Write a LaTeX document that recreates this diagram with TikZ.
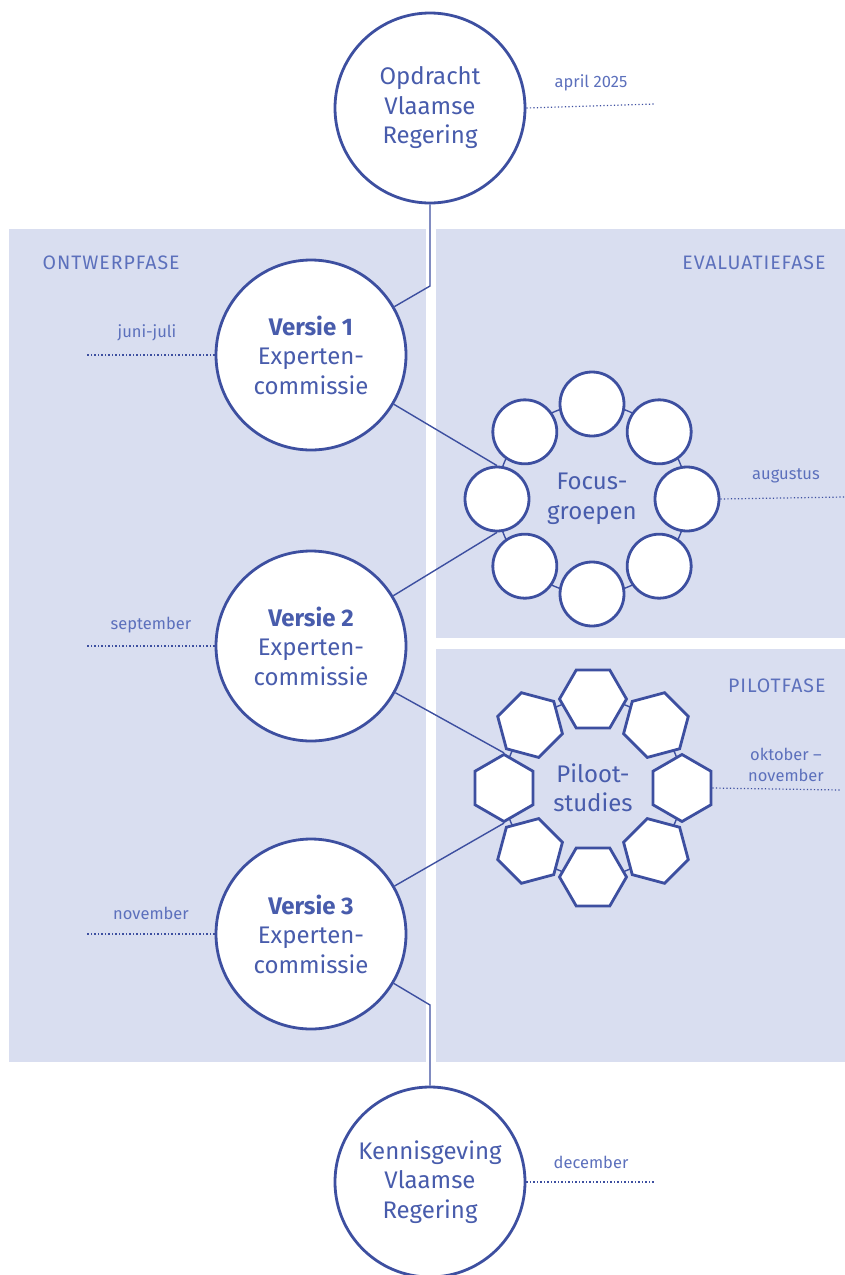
\documentclass[tikz,border=0pt]{standalone}
\usepackage{fontspec}
\setmainfont{Fira Sans}
\usetikzlibrary{positioning, shapes.geometric, calc}
\definecolor{vlbg}{RGB}{217,222,240}
\definecolor{vlline}{RGB}{61,79,160}
\definecolor{vltext}{RGB}{72,92,172}
\definecolor{vllabel}{RGB}{92,112,188}

\begin{document}
\begin{tikzpicture}[x=1pt, y=-1pt,
    bn/.style={circle, draw=vlline, line width=2.8pt, fill=white, minimum size=190pt,
      inner sep=0pt, align=center, text=vltext, font=\fontsize{24}{29.5}\selectfont},
    fn/.style={circle, draw=vlline, line width=2.8pt, fill=white, minimum size=64pt, inner sep=0pt},
    hn/.style={regular polygon, regular polygon sides=6, draw=vlline, line width=2.8pt,
      fill=white, minimum size=67pt, inner sep=0pt},
    lnk/.style={draw=vlline, line width=1.4pt},
    dt/.style={draw=vlline, line width=1.2pt, dash pattern=on 1.2pt off 2.3pt},
    dl/.style={text=vllabel, font=\fontsize{16.5}{21}\selectfont, align=center},
    ph/.style={text=vllabel, font=\fontsize{19.5}{20}\selectfont\addfontfeatures{LetterSpace=5}}]
  \useasboundingbox (0,0) rectangle (845,1275);

  % phases
  \fill[vlbg] (9,229) rectangle (426,1062);
  \fill[vlbg] (436,229) rectangle (845,638);
  \fill[vlbg] (436,649) rectangle (845,1062);
  \node[ph, anchor=west] (ontw) at (39,263) {ONTWERPFASE};
  \node[ph, anchor=east] (eval) at (829,263) {EVALUATIEFASE};
  \node[ph, anchor=east] (pilot) at (829,686) {PILOTFASE};

  % centres of the two rings
  \coordinate (fc) at (592,499);
  \coordinate (pc) at (593,788);
  \coordinate (tj) at (430,286);
  \coordinate (bj) at (430,1005);

  % big circles
  \node[bn] (opd) at (430,108) {Opdracht\\Vlaamse\\Regering};
  \node[bn] (v1) at (311,355) {\textbf{Versie 1}\\Experten-\\commissie};
  \node[bn] (v2) at (311,646) {\textbf{Versie 2}\\Experten-\\commissie};
  \node[bn] (v3) at (311,934) {\textbf{Versie 3}\\Experten-\\commissie};
  \node[bn] (kg) at (430,1182) {Kennisgeving\\Vlaamse\\Regering};

  % focus groups
  \draw[lnk] (fc) circle (95pt);
  \foreach \a [count=\i] in {0,45,...,315}
    \node[fn] (fg\i) at ($(fc)+(\a:95pt)$) {};
  \node[bn, draw=none, fill=none] (fgt) at (fc) {Focus-\\groepen};

  % pilot studies
  \draw[lnk] (pc) circle (89pt);
  \foreach \a [count=\i] in {0,45,...,315}
    \node[hn, shape border rotate=\a-90] (pl\i) at ($(pc)+(\a:89pt)$) {};
  \node[bn, draw=none, fill=none] (plt) at (pc) {Piloot-\\studies};

  % connectors
  \draw[lnk] (opd) -- (tj) -- (v1);
  \draw[lnk] (v1) -- (fg5.north);
  \draw[lnk] (v2) -- (fg5.south);
  \draw[lnk] (v2) -- (pl5.north);
  \draw[lnk] (v3) -- (pl5.south);
  \draw[lnk] (v3) -- (bj) -- (kg);

  % dates
  \coordinate (d1) at (655,104);
  \coordinate (d2) at (87,355);
  \coordinate (d3) at (845,497);
  \coordinate (d4) at (87,646);
  \coordinate (d5) at (840,790);
  \coordinate (d6) at (87,934);
  \coordinate (d7) at (655,1182);
  \draw[dt] (opd.east) -- (d1);
  \draw[dt] (v1.west) -- (d2);
  \draw[dt] (fg1.east) -- (d3);
  \draw[dt] (v2.west) -- (d4);
  \draw[dt] (pl1.east) -- (d5);
  \draw[dt] (v3.west) -- (d6);
  \draw[dt] (kg.east) -- (d7);
  \node[dl] (l1) at (591,83) {april 2025};
  \node[dl] (l2) at (147,333) {juni-juli};
  \node[dl] (l3) at (786,476) {augustus};
  \node[dl] (l4) at (151,625) {september};
  \node[dl] (l5) at (786,765) {oktober –\\november};
  \node[dl] (l6) at (151,913) {november};
  \node[dl] (l7) at (591,1162) {december};
\end{tikzpicture}
\end{document}
